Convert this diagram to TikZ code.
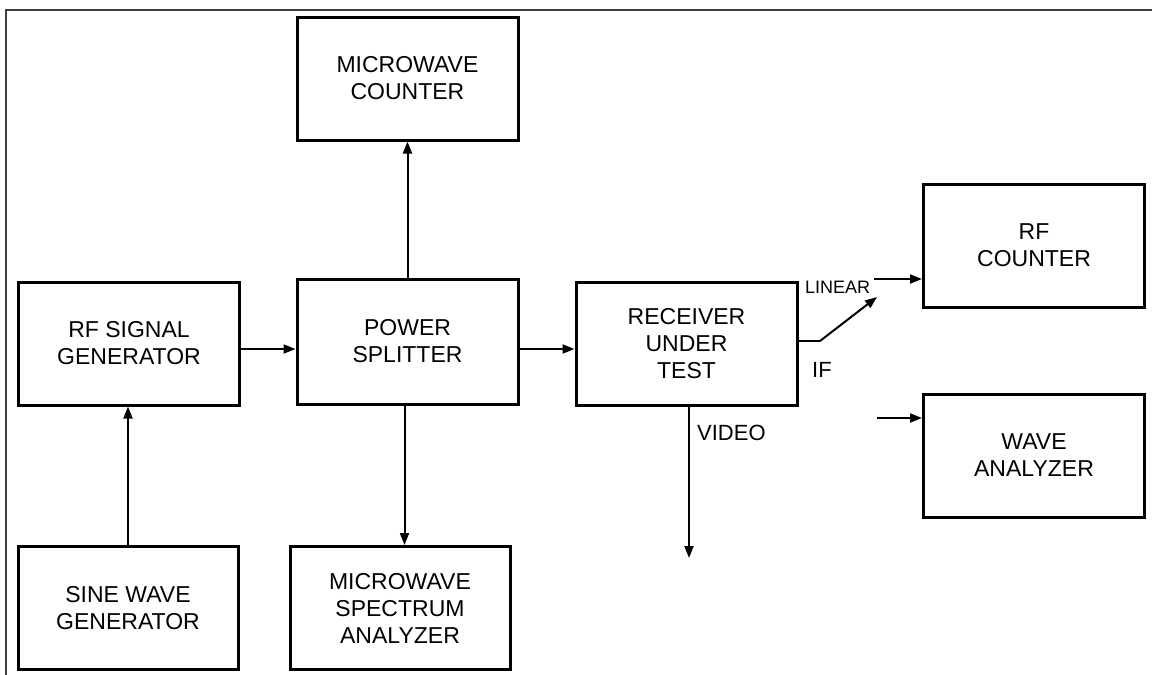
\documentclass[tikz,border=0pt]{standalone}
\usepackage{fontspec}
\setmainfont{Liberation Sans}
\usetikzlibrary{arrows.meta}

\begin{document}
\begin{tikzpicture}[x=1pt, y=-1pt,
    box/.style={draw, line width=3pt, minimum width=221pt, minimum height=123pt,
        align=center, inner sep=0pt, font=\fontsize{23}{27}\selectfont},
    lbl/.style={anchor=west, inner sep=0pt, font=\fontsize{22}{26}\selectfont},
    >={Triangle[length=12pt,width=9pt]}]
    \useasboundingbox (0,0) rectangle (1152,675);
    \draw[darkgray, line width=1.5pt] (6,675) -- (6,10) -- (1152,10);

    % First row of nodes
    \node[box] (A1) at (407.5, 78.5) {MICROWAVE\\COUNTER};
    \node[box] (A2) at (1034, 245.5) {RF\\COUNTER};

    % Second row of nodes
    \node[box] (B1) at (129, 343.5) {RF SIGNAL\\GENERATOR};
    \node[box, minimum height=125pt] (B2) at (407.5, 341.5) {POWER\\SPLITTER};
    \node[box] (B3) at (686.5, 343.5) {RECEIVER\\UNDER\\TEST};
    \node[box] (B4) at (1034, 455.5) {WAVE\\ANALYZER};

    % Third row of nodes
    \node[box, minimum width=220pt] (C1) at (128, 608) {SINE WAVE\\GENERATOR};
    \node[box, minimum width=220pt] (C2) at (400, 608) {MICROWAVE\\SPECTRUM\\ANALYZER};

    % Free ends of the outputs
    \coordinate (vid) at (689, 558);
    \coordinate (sw1) at (820, 341);
    \coordinate (sw2) at (877, 297);
    \coordinate (in1) at (874, 279);
    \coordinate (in2) at (877, 418);

    % Labels
    \node[lbl, font=\fontsize{18}{22}\selectfont] (lin) at (805, 287) {LINEAR};
    \node[lbl] (if) at (812, 370) {IF};
    \node[lbl] (video) at (697, 433) {VIDEO};

    % Edges between nodes
    \begin{scope}[line width=2pt]
    \draw[->] ([yshift=-5.5pt]B1.east) -- ([yshift=-7.5pt]B2.west);
    \draw[->] ([yshift=-7.5pt]B2.east) -- ([yshift=-5.5pt]B3.west);
    \draw[->] (B2.north) -- (A1.south);
    \draw[->] ([xshift=-3pt]B2.south) -- ([xshift=-3pt]B2.south |- C2.north);
    \draw[->] (C1.north) -- (C1.north |- B1.south);

    \draw[->] (B3.south -| vid) -- (vid);
    \draw (B3.east |- sw1) -- (sw1);
    \draw[->] (sw1) -- (sw2);
    \draw[->] (in1) -- (in1 -| A2.west);
    \draw[->] (in2) -- (in2 -| B4.west);
    \end{scope}
\end{tikzpicture}
\end{document}
